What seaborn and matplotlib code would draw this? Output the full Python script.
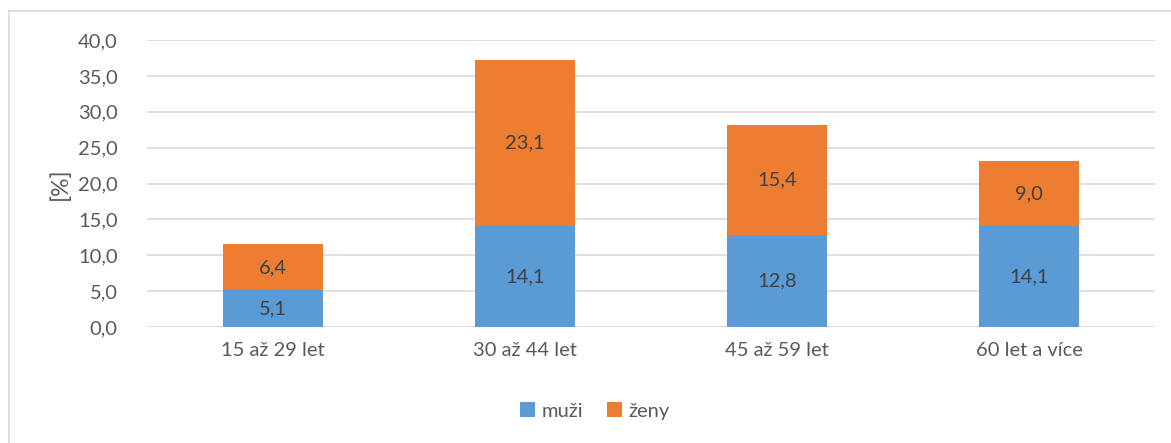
import matplotlib
matplotlib.use("Agg")
import matplotlib.pyplot as plt
import seaborn as sns
import pandas as pd
from matplotlib.lines import Line2D
from matplotlib.patches import Patch

categories = ["15 až 29 let", "30 až 44 let", "45 až 59 let", "60 let a více"]
muzi = [5.1, 14.1, 12.8, 14.1]
zeny = [6.4, 23.1, 15.4, 9.0]
series_names = ["muži", "ženy"]
yticks = [0, 5, 10, 15, 20, 25, 30, 35, 40]

BLUE = "#5B9BD5"
ORANGE = "#ED7D31"
TXT = "#595959"
FS = 14.5

sns.set_theme(style="white")
plt.rcParams["font.family"] = ["Lato", "DejaVu Sans"]

df = pd.DataFrame({"cat": categories, "muzi": muzi, "zeny": zeny})
df["total"] = df["muzi"] + df["zeny"]

fig = plt.figure(figsize=(11.71, 4.43), dpi=100)
ax = fig.add_axes([147 / 1171, 116 / 443, (1155 - 147) / 1171, (403 - 116) / 443])

sns.barplot(data=df, x="cat", y="total", color=ORANGE, width=0.4, ax=ax,
            saturation=1, edgecolor="none", zorder=3)
sns.barplot(data=df, x="cat", y="muzi", color=BLUE, width=0.4, ax=ax,
            saturation=1, edgecolor="none", zorder=3)

ax.set_xlim(-0.5, 3.5)
ax.set_ylim(0, 40)
ax.set_yticks(yticks)
ax.set_yticklabels([f"{v:.1f}".replace(".", ",") for v in yticks], color=TXT, fontsize=FS)
ax.tick_params(axis="y", length=0, pad=21)
ax.tick_params(axis="x", length=0, pad=11, labelsize=FS, labelcolor=TXT)
ax.set_xlabel("")
ax.set_ylabel("[%]", color=TXT, fontsize=16.5, labelpad=5)
ax.yaxis.grid(True, color="#D9D9D9", linewidth=1.2, zorder=0)
for s in ax.spines.values():
    s.set_visible(False)

for i, (m, z) in enumerate(zip(muzi, zeny)):
    ax.text(i, m / 2, f"{m:.1f}".replace(".", ","), ha="center", va="center",
            color="#404040", fontsize=FS, zorder=5)
    ax.text(i, m + z / 2, f"{z:.1f}".replace(".", ","), ha="center", va="center",
            color="#404040", fontsize=FS, zorder=5)

handles = [Patch(facecolor=BLUE, edgecolor="none"), Patch(facecolor=ORANGE, edgecolor="none")]
fig.legend(handles, series_names, loc="center", bbox_to_anchor=(595 / 1171, 1 - 411 / 443),
           ncol=2, frameon=False, fontsize=FS, labelcolor=TXT,
           handlelength=0.75, handleheight=0.75, handletextpad=0.3, columnspacing=1.2)

# chart border
fig.add_artist(Line2D([8.5 / 1171, 8.5 / 1171], [0, 1 - 10.5 / 443], transform=fig.transFigure,
                      color="#D9D9D9", linewidth=1.2))
fig.add_artist(Line2D([8.5 / 1171, 1.0], [1 - 10.5 / 443, 1 - 10.5 / 443], transform=fig.transFigure,
                      color="#D9D9D9", linewidth=1.2))

fig.savefig("out.png", dpi=100, facecolor="white")
